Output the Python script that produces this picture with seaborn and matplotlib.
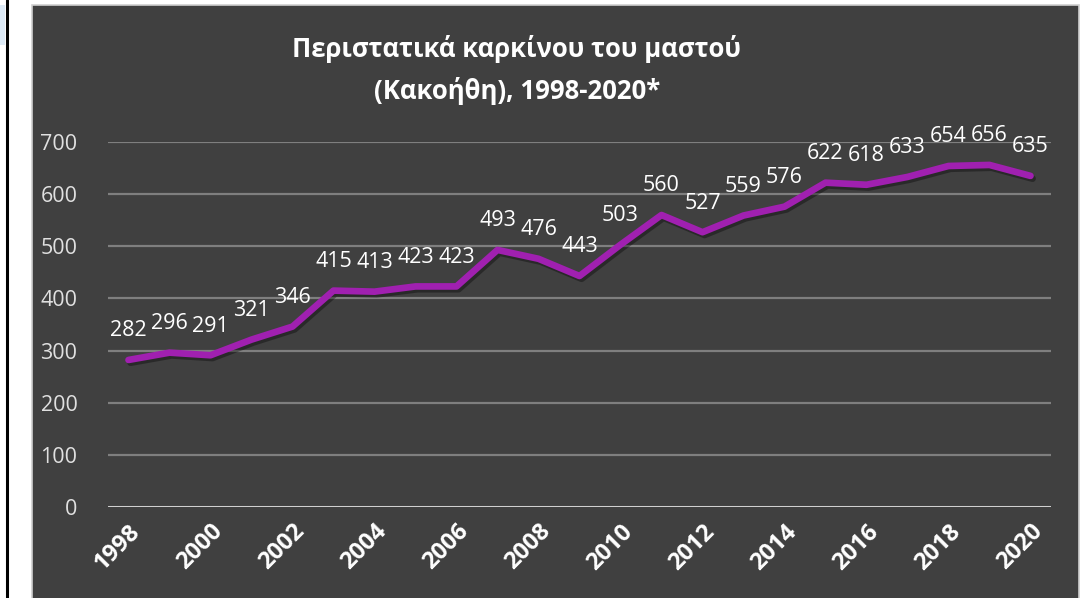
import matplotlib.pyplot as plt
import matplotlib.patches as mpatches
import matplotlib.patheffects as pe
import seaborn as sns
import pandas as pd

# Datos
years = list(range(1998, 2021))
cases = [282, 296, 291, 321, 346, 415, 413, 423, 423, 493, 476, 443,
         503, 560, 527, 559, 576, 622, 618, 633, 654, 656, 635]
title = "Περιστατικά καρκίνου του μαστού\n(Κακοήθη), 1998-2020*"

df = pd.DataFrame({"year": years, "cases": cases})

sns.set_theme(style="dark")
plt.rcParams["font.family"] = ["Open Sans", "DejaVu Sans"]

fig = plt.figure(figsize=(10.84, 5.98), dpi=100)
fig.patch.set_facecolor("white")

# panel oscuro + marco
W, H = 1084, 598
fig.patches.append(mpatches.Rectangle((32 / W, -0.01), (1079 - 32) / W, (593 + 0.01 * H) / H,
                                      transform=fig.transFigure, facecolor="#404040",
                                      edgecolor="#d0d0d0", linewidth=1.2, zorder=-2))
fig.patches.append(mpatches.Rectangle((0, 1 - 45 / H), 5 / W, 40 / H,
                                      transform=fig.transFigure, facecolor="#dce9f5",
                                      edgecolor="none", zorder=-2))
fig.lines.append(plt.Line2D([7 / W, 7 / W], [0, 1], transform=fig.transFigure,
                            color="black", linewidth=2.2, zorder=-1))

ax = fig.add_axes([108 / W, 1 - 507 / H, (1051 - 108) / W, (507 - 142) / H])
ax.set_facecolor("none")

sns.lineplot(data=df, x="year", y="cases", ax=ax, color="#a020b0", linewidth=4.8,
             solid_capstyle="round", solid_joinstyle="round", zorder=5,
             path_effects=[pe.SimpleLineShadow(offset=(1.5, -2), shadow_color="black", alpha=0.35),
                           pe.Normal()])

for x, y in zip(years, cases):
    ax.annotate(str(y), (x, y), xytext=(0, 17), textcoords="offset points",
                ha="center", va="baseline", color="white", fontsize=15.5, zorder=6)

ax.set_xlim(1997.5, 2020.5)
ax.set_ylim(0, 700)
ax.set_yticks(range(0, 701, 100))
ax.set_xticks(range(1998, 2021, 2))
ax.set_xticklabels([str(y) for y in range(1998, 2021, 2)], rotation=45,
                   ha="right", rotation_mode="anchor", fontweight="bold", fontsize=17, color="white")
ax.tick_params(axis="y", colors="#d9d9d9", labelsize=15.5, pad=22, length=0)
ax.tick_params(axis="x", length=0, pad=9)
for lab in ax.get_yticklabels():
    lab.set_color("#e0e0e0")

ax.grid(False)
for v in range(100, 701, 100):
    ax.axhline(v, color="#7f7f7f", linewidth=1.6, zorder=1)
ax.axhline(0, color="#d0d0d0", linewidth=2.2, zorder=1)
for s in ax.spines.values():
    s.set_visible(False)
ax.set_xlabel("")
ax.set_ylabel("")

fig.text(517 / W, 1 - 70 / H, title, ha="center", va="center", color="white",
         fontsize=18.5, fontweight="bold", linespacing=1.6)

fig.savefig("out.png", dpi=100)
